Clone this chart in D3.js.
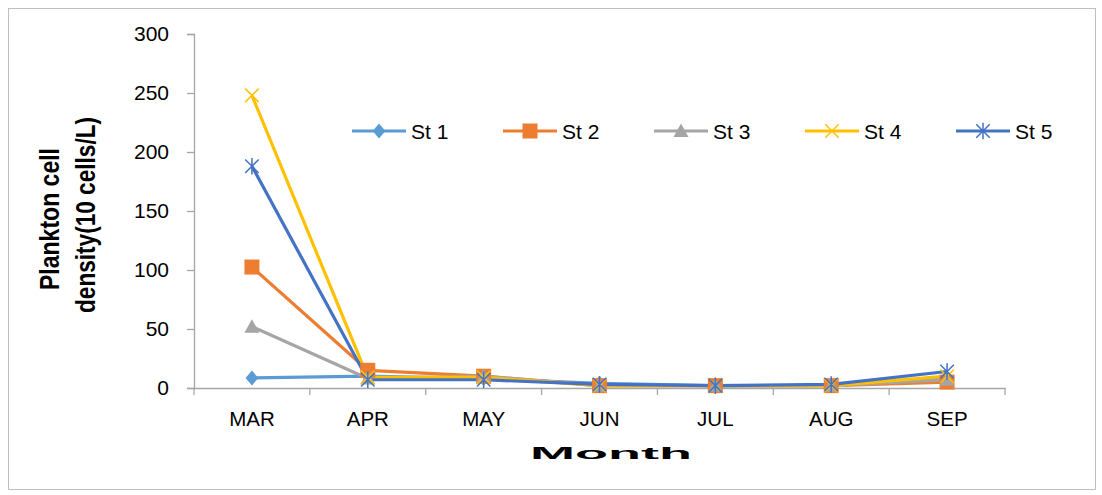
<!DOCTYPE html>
<html><head><meta charset="utf-8">
<script src="https://cdn.jsdelivr.net/npm/d3@7"></script>
<style>body{margin:0;background:#fff}svg{display:block}</style>
</head><body>
<svg id="c" width="1102" height="495"></svg>
<script>
const months = ["MAR","APR","MAY","JUN","JUL","AUG","SEP"];
const seriesNames = ["St 1","St 2","St 3","St 4","St 5"];
const st1 = [8.5, 10, 8, 4, 2, 2, 8];
const st2 = [102.5, 15, 10, 2, 2, 2, 5];
const st3 = [52, 8, 10, 2, 2, 2, 7];
const st4 = [248, 9, 9, 2, 2, 2, 10];
const st5 = [188, 7, 7, 3, 2, 3, 14];
const yTicks = [0,50,100,150,200,250,300];
const colors = ["#5b9bd5","#ed7d31","#a5a5a5","#ffc000","#4472c4"];
const markers = ["diamond","square","triangle","x","star"];
const allSeries = [st1,st2,st3,st4,st5];

const svg = d3.select("#c");
const font = "'Liberation Sans', Arial, sans-serif";
svg.append("rect").attr("x",8.5).attr("y",8.5).attr("width",1087).attr("height",481)
  .attr("fill","#fff").attr("stroke","#bfbfbf");

const L=194, R=1005, T=34, B=388;
const x = d3.scaleBand().domain(months).range([L,R]);
const y = d3.scaleLinear().domain([0,300]).range([B,T]);

// y axis
const ya = svg.append("g").attr("transform",`translate(${L},0)`)
  .call(d3.axisLeft(y).tickValues(yTicks).tickSize(7).tickPadding(18));
ya.select(".domain").attr("stroke","#a6a6a6").attr("stroke-width",1.3);
ya.selectAll(".tick line").attr("stroke","#a6a6a6").attr("stroke-width",1.3);
ya.selectAll("text").attr("font-family",font).attr("font-size",21).attr("fill","#000");

// x axis
const xa = svg.append("g").attr("transform",`translate(0,${B})`)
  .call(d3.axisBottom(x).tickSize(0).tickPadding(23));
xa.select(".domain").attr("stroke","#a6a6a6").attr("stroke-width",1.3);
xa.selectAll("text").attr("font-family",font).attr("font-size",20.5).attr("fill","#000");
const bounds = months.map((m,i)=>x(m)).concat([R]);
xa.selectAll(".bt").data(bounds).join("line").attr("class","bt")
  .attr("x1",d=>d).attr("x2",d=>d).attr("y1",0).attr("y2",7)
  .attr("stroke","#a6a6a6").attr("stroke-width",1.3);

function drawMarker(g, type, color, s){
  if(type==="diamond"){
    g.append("path").attr("d",`M0,${-s}L${s*0.85},0L0,${s}L${-s*0.85},0Z`).attr("fill",color);
  } else if(type==="square"){
    g.append("rect").attr("x",-s).attr("y",-s).attr("width",s*2).attr("height",s*2).attr("fill",color);
  } else if(type==="triangle"){
    g.append("path").attr("d",`M0,${-s}L${s},${s*0.8}L${-s},${s*0.8}Z`).attr("fill",color);
  } else if(type==="x"){
    const h=s*0.9;
    g.append("path").attr("d",`M${-h},${-h}L${h},${h}M${-h},${h}L${h},${-h}`).attr("stroke",color).attr("stroke-width",1.5);
  } else {
    const h=s*0.9;
    g.append("path").attr("d",`M${-h},${-h}L${h},${h}M${-h},${h}L${h},${-h}M0,${-s*1.1}L0,${s*1.1}`).attr("stroke",color).attr("stroke-width",1.5);
  }
}

const line = d3.line().x((d,i)=>x(months[i])+x.bandwidth()/2).y(d=>y(d));
allSeries.forEach((vals,k)=>{
  svg.append("path").datum(vals).attr("d",line).attr("fill","none")
    .attr("stroke",colors[k]).attr("stroke-width",3.2).attr("stroke-linejoin","round");
});
allSeries.forEach((vals,k)=>{
  vals.forEach((v,i)=>{
    const g = svg.append("g").attr("transform",`translate(${x(months[i])+x.bandwidth()/2},${y(v)})`);
    drawMarker(g, markers[k], colors[k], 7.5);
  });
});

// legend
const legX = [352,503,654,805,956];
seriesNames.forEach((n,k)=>{
  const g = svg.append("g").attr("transform",`translate(${legX[k]},131)`);
  g.append("line").attr("x1",0).attr("x2",54).attr("stroke",colors[k]).attr("stroke-width",3.2);
  const m = g.append("g").attr("transform","translate(27,0)");
  drawMarker(m, markers[k], colors[k], 7.5);
  g.append("text").attr("x",59).attr("y",7.5).attr("font-family",font).attr("font-size",21).text(n);
});

// axis titles
const yt = svg.append("text").attr("transform","rotate(-90)")
  .attr("font-family","'Liberation Sans', Arial, sans-serif")
  .attr("font-weight","bold").attr("font-size",27).attr("text-anchor","middle");
yt.append("tspan").attr("x",-219).attr("y",59).attr("textLength",142).attr("lengthAdjust","spacingAndGlyphs").text("Plankton cell");
yt.append("tspan").attr("x",-215).attr("y",95).attr("textLength",196).attr("lengthAdjust","spacingAndGlyphs").text("density(10 cells/L)");

svg.append("text").attr("x",530).attr("y",459).attr("font-family","'Liberation Sans', Arial, sans-serif")
  .attr("font-weight","bold").attr("font-size",16).attr("textLength",162).attr("lengthAdjust","spacingAndGlyphs")
  .text("Month");
</script>
</body></html>
